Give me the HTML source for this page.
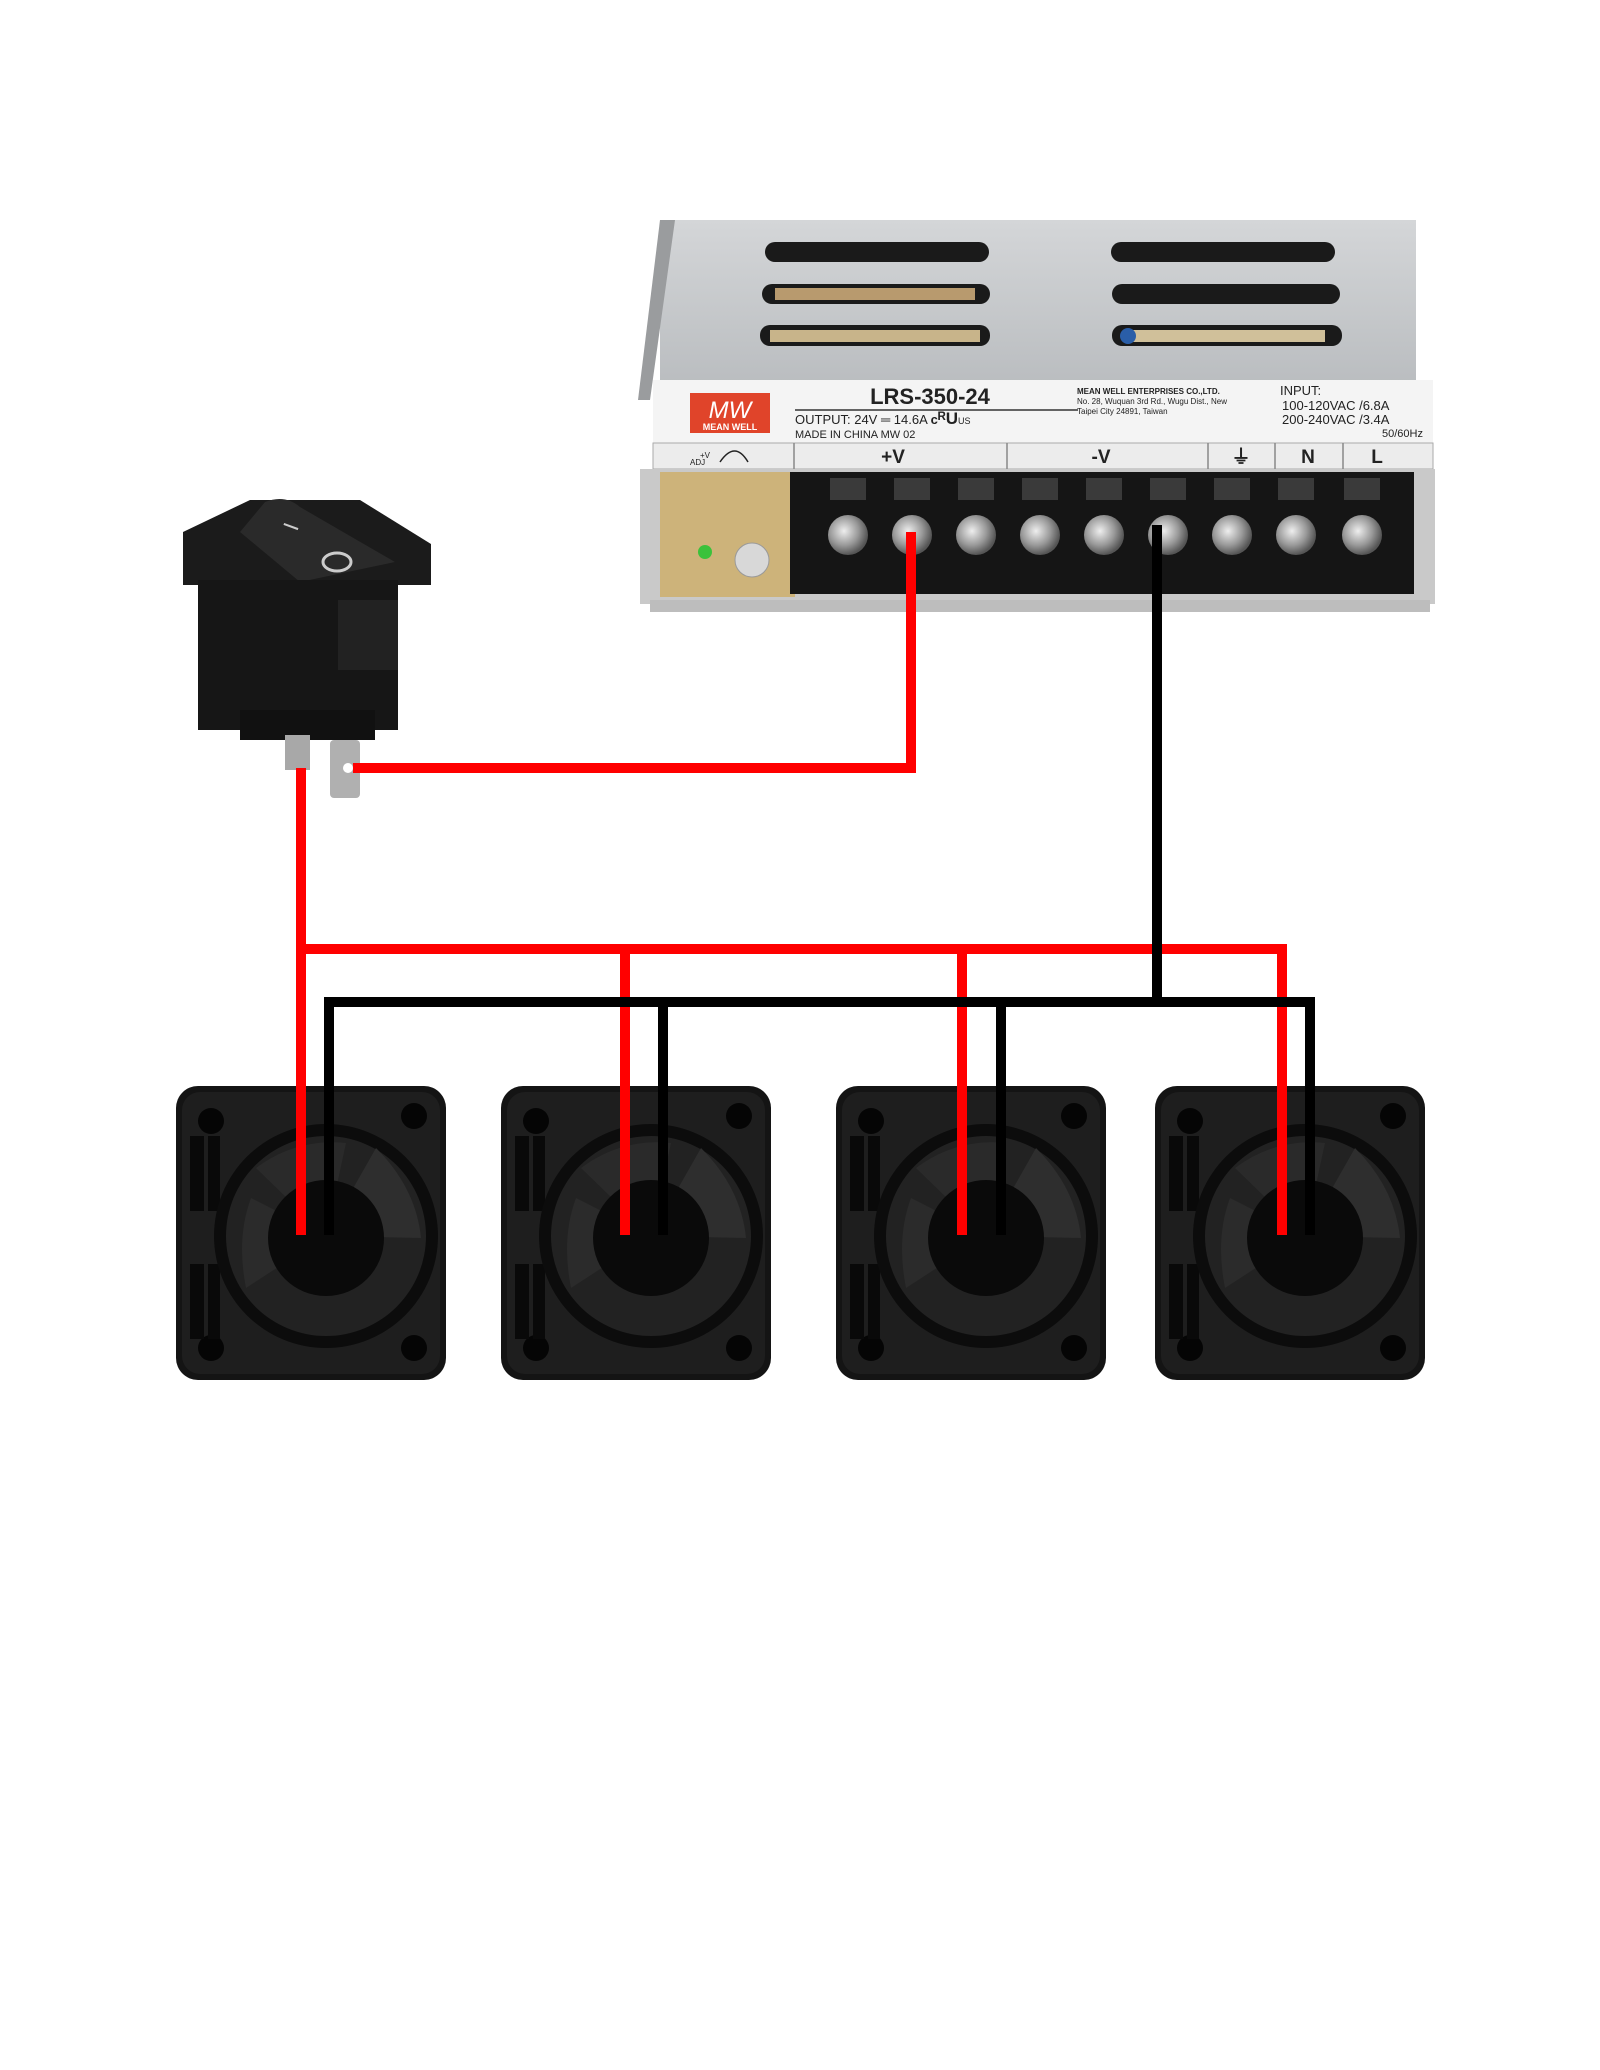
<!DOCTYPE html>
<html><head><meta charset="utf-8"><style>
html,body{margin:0;padding:0;background:#fff;}
svg{display:block;font-family:"Liberation Sans",sans-serif;}
</style></head><body>
<svg width="1600" height="2070" viewBox="0 0 1600 2070" xmlns="http://www.w3.org/2000/svg">
<defs>
<linearGradient id="metal" x1="0" y1="0" x2="0" y2="1"><stop offset="0" stop-color="#d4d6d8"/><stop offset="1" stop-color="#b9bcbf"/></linearGradient>
<radialGradient id="screw" cx="0.4" cy="0.4" r="0.6"><stop offset="0" stop-color="#eee"/><stop offset="0.6" stop-color="#999"/><stop offset="1" stop-color="#555"/></radialGradient>
<g id="fan">
<rect x="0" y="0" width="270" height="294" rx="22" fill="#141414"/>
<rect x="6" y="6" width="258" height="282" rx="18" fill="#1e1e1e"/>
<circle cx="35" cy="35" r="13" fill="#050505"/><circle cx="238" cy="30" r="13" fill="#050505"/>
<circle cx="35" cy="262" r="13" fill="#050505"/><circle cx="238" cy="262" r="13" fill="#050505"/>
<rect x="14" y="50" width="14" height="75" fill="#090909"/><rect x="32" y="50" width="12" height="75" fill="#090909"/>
<rect x="14" y="178" width="14" height="75" fill="#090909"/><rect x="32" y="178" width="12" height="75" fill="#090909"/>
<circle cx="150" cy="150" r="112" fill="#0c0c0c"/>
<circle cx="150" cy="150" r="100" fill="#222"/>
<path d="M150 150 L200 62 Q240 102 245 152 Z" fill="#2e2e2e"/>
<path d="M150 150 L80 82 Q120 52 170 57 Z" fill="#2a2a2a"/>
<path d="M150 150 L70 202 Q60 152 75 112 Z" fill="#2b2b2b"/>
<circle cx="150" cy="152" r="58" fill="#0a0a0a"/>
</g>
</defs>
<!-- PSU -->
<rect x="660" y="220" width="756" height="170" fill="url(#metal)"/>
<polygon points="660,220 675,220 650,400 638,400" fill="#9a9c9e"/>
<g fill="#1a1a1a">
<rect x="765" y="242" width="224" height="20" rx="10"/><rect x="762" y="284" width="228" height="20" rx="10"/><rect x="760" y="325" width="230" height="21" rx="10"/>
<rect x="1111" y="242" width="224" height="20" rx="10"/><rect x="1112" y="284" width="228" height="20" rx="10"/><rect x="1112" y="325" width="230" height="21" rx="10"/>
</g>
<rect x="775" y="288" width="200" height="12" fill="#b89a6e"/><rect x="770" y="330" width="210" height="12" fill="#c8b48a"/>
<rect x="1125" y="330" width="200" height="12" fill="#d0c09a"/><circle cx="1128" cy="336" r="8" fill="#2a5ea8"/>
<rect x="653" y="380" width="780" height="68" fill="#f4f4f4"/>
<rect x="690" y="393" width="80" height="40" fill="#e0442a"/>
<text x="730" y="418" font-size="24" font-style="italic" fill="#fff" text-anchor="middle">MW</text>
<text x="730" y="430" font-size="9" font-weight="bold" fill="#fff" text-anchor="middle">MEAN WELL</text>
<text x="930" y="404" font-size="22" font-weight="bold" fill="#222" text-anchor="middle">LRS-350-24</text>
<line x1="795" y1="410" x2="1078" y2="410" stroke="#333" stroke-width="1.5"/>
<text x="795" y="424" font-size="13" fill="#222">OUTPUT:   24V ═ 14.6A  <tspan font-weight="bold">c</tspan><tspan font-size="17" font-weight="bold">ᴿU</tspan><tspan font-size="9">US</tspan></text>
<text x="795" y="438" font-size="11" fill="#222">MADE IN CHINA   MW 02</text>
<text x="1077" y="394" font-size="8" font-weight="bold" fill="#222">MEAN WELL ENTERPRISES CO.,LTD.</text>
<text x="1077" y="404" font-size="8" fill="#222">No. 28, Wuquan 3rd Rd., Wugu Dist., New</text>
<text x="1077" y="414" font-size="8" fill="#222">Taipei City 24891, Taiwan</text>
<text x="1280" y="395" font-size="13" fill="#222">INPUT:</text>
<text x="1282" y="410" font-size="13" fill="#222">100-120VAC /6.8A</text>
<text x="1282" y="424" font-size="13" fill="#222">200-240VAC /3.4A</text>
<text x="1423" y="437" font-size="11" fill="#222" text-anchor="end">50/60Hz</text>
<rect x="653" y="443" width="780" height="26" fill="#ececec" stroke="#aaa"/>
<g stroke="#888" stroke-width="1.5"><line x1="794" y1="443" x2="794" y2="469"/><line x1="1007" y1="443" x2="1007" y2="469"/><line x1="1208" y1="443" x2="1208" y2="469"/><line x1="1275" y1="443" x2="1275" y2="469"/><line x1="1343" y1="443" x2="1343" y2="469"/></g>
<text x="700" y="458" font-size="8" fill="#222">+V</text><text x="690" y="465" font-size="8" fill="#222">ADJ</text>
<path d="M720 462 Q735 440 748 462" fill="none" stroke="#222" stroke-width="1.5"/>
<g font-size="19" font-weight="bold" fill="#222" text-anchor="middle">
<text x="893" y="463">+V</text><text x="1101" y="463">-V</text><text x="1241" y="463">⏚</text><text x="1308" y="463">N</text><text x="1377" y="463">L</text></g>
<rect x="640" y="469" width="795" height="135" fill="#c9c9c9"/>
<rect x="660" y="472" width="135" height="125" fill="#cdb37a"/>
<circle cx="705" cy="552" r="7" fill="#3bc23b"/><circle cx="752" cy="560" r="17" fill="#d8d8d8" stroke="#999"/>
<rect x="790" y="472" width="624" height="122" fill="#151515"/>
<g fill="url(#screw)">
<circle cx="848" cy="535" r="20"/><circle cx="912" cy="535" r="20"/><circle cx="976" cy="535" r="20"/><circle cx="1040" cy="535" r="20"/><circle cx="1104" cy="535" r="20"/><circle cx="1168" cy="535" r="20"/><circle cx="1232" cy="535" r="20"/><circle cx="1296" cy="535" r="20"/><circle cx="1362" cy="535" r="20"/></g>
<g fill="#3a3a3a"><rect x="830" y="478" width="36" height="22"/><rect x="894" y="478" width="36" height="22"/><rect x="958" y="478" width="36" height="22"/><rect x="1022" y="478" width="36" height="22"/><rect x="1086" y="478" width="36" height="22"/><rect x="1150" y="478" width="36" height="22"/><rect x="1214" y="478" width="36" height="22"/><rect x="1278" y="478" width="36" height="22"/><rect x="1344" y="478" width="36" height="22"/></g>
<rect x="650" y="600" width="780" height="12" fill="#bdbdbd"/>
<!-- Switch -->
<polygon points="183,532 250,500 360,500 431,544 431,585 183,585" fill="#1b1b1b"/>
<path d="M240 532 L265 502 Q285 494 300 507 L395 562 L300 582 Z" fill="#2a2a2a"/>
<text x="297" y="532" font-size="22" fill="#ccc" transform="rotate(-70 297 532)">I</text>
<ellipse cx="337" cy="562" rx="14" ry="9" fill="none" stroke="#ccc" stroke-width="3"/>
<rect x="198" y="580" width="200" height="150" fill="#161616"/>
<rect x="338" y="600" width="60" height="70" fill="#222"/>
<rect x="240" y="710" width="135" height="30" fill="#111"/>
<rect x="285" y="735" width="25" height="35" fill="#a8a8a8"/>
<rect x="330" y="740" width="30" height="58" rx="4" fill="#b0b0b0"/>
<circle cx="348" cy="768" r="5" fill="#fff"/>
<!-- Fans -->
<use href="#fan" x="176" y="1086"/><use href="#fan" x="501" y="1086"/><use href="#fan" x="836" y="1086"/><use href="#fan" x="1155" y="1086"/>
<!-- Wires -->
<g fill="none" stroke-width="10" stroke-linejoin="miter">
<polyline points="911,532 911,768 353,768" stroke="#ff0000"/>
<polyline points="301,768 301,1235" stroke="#ff0000"/>
<polyline points="301,949 1282,949 1282,1235" stroke="#ff0000"/>
<line x1="625" y1="949" x2="625" y2="1235" stroke="#ff0000"/>
<line x1="962" y1="949" x2="962" y2="1235" stroke="#ff0000"/>
<line x1="1157" y1="525" x2="1157" y2="1002" stroke="#000"/>
<polyline points="329,1235 329,1002 1310,1002 1310,1235" stroke="#000"/>
<line x1="663" y1="1002" x2="663" y2="1235" stroke="#000"/>
<line x1="1001" y1="1002" x2="1001" y2="1235" stroke="#000"/>
</g>
</svg>
</body></html>
